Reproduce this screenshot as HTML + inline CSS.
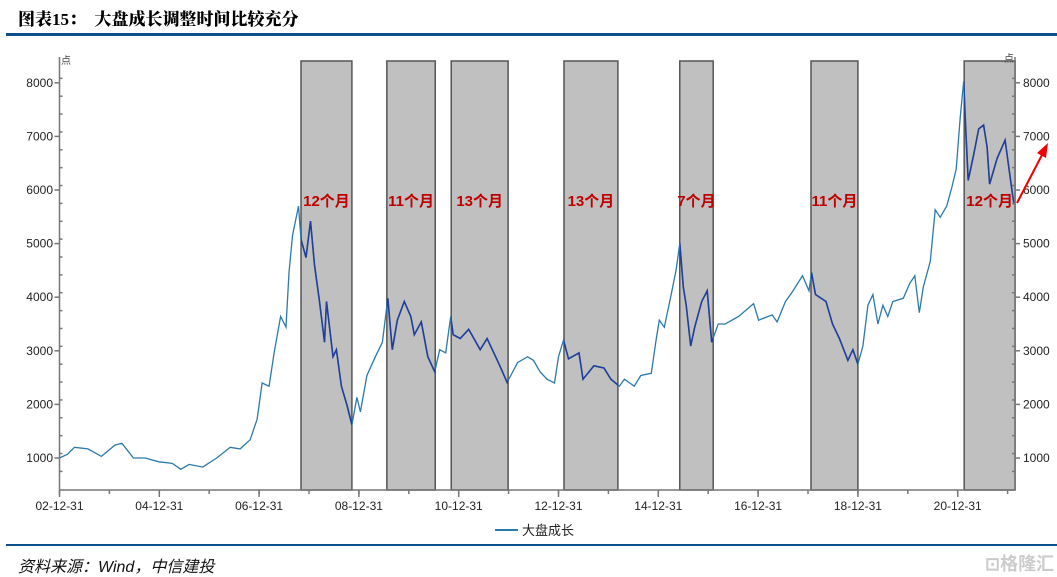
<!DOCTYPE html>
<html><head><meta charset="utf-8"><style>
body{margin:0;width:1057px;height:577px;background:#fff;overflow:hidden;font-family:"Liberation Sans","Noto Sans CJK SC",sans-serif;}
#title{position:absolute;left:18px;top:5px;font-size:17px;font-weight:900;color:#000;font-family:"Liberation Serif","Noto Serif CJK SC",serif;white-space:pre}
#topline{position:absolute;left:6px;top:33px;width:1051px;height:3px;background:#0d4f8b}
#botline{position:absolute;left:6px;top:544px;width:1051px;height:2px;background:#0d4f8b}
#source{position:absolute;left:18px;top:553px;font-size:16px;font-style:italic;color:#111}
#wm{position:absolute;left:985px;top:550px;font-size:18px;color:#ccc;font-weight:bold}
</style></head><body>
<div id="title">图表15：  大盘成长调整时间比较充分</div>
<div id="topline"></div>
<svg id="chart" width="1057" height="577" style="position:absolute;left:0;top:0"></svg>
<div id="botline"></div>
<div id="source">资料来源：Wind，中信建投</div>
<div id="wm">⊡格隆汇</div>
<script>
const years=[2003.0,2003.16,2003.3,2003.57,2003.84,2004.11,2004.25,2004.48,2004.72,2004.99,2005.26,2005.43,2005.6,2005.87,2006.15,2006.42,2006.62,2006.82,2006.96,2007.06,2007.2,2007.3,2007.43,2007.54,2007.6,2007.67,2007.79,2007.84,2007.94,2008.03,2008.11,2008.21,2008.31,2008.35,2008.48,2008.55,2008.65,2008.76,2008.86,2008.96,2009.03,2009.16,2009.33,2009.47,2009.58,2009.67,2009.77,2009.91,2010.04,2010.11,2010.25,2010.38,2010.52,2010.62,2010.74,2010.84,2010.89,2011.03,2011.2,2011.43,2011.57,2011.81,2011.97,2012.18,2012.38,2012.5,2012.63,2012.77,2012.92,2013.0,2013.1,2013.2,2013.41,2013.49,2013.71,2013.91,2014.05,2014.22,2014.32,2014.52,2014.65,2014.86,2014.96,2015.02,2015.12,2015.26,2015.36,2015.43,2015.5,2015.56,2015.65,2015.73,2015.87,2015.98,2016.07,2016.2,2016.34,2016.61,2016.91,2017.01,2017.28,2017.38,2017.55,2017.68,2017.89,2018.02,2018.07,2018.15,2018.36,2018.49,2018.63,2018.8,2018.9,2019.0,2019.1,2019.2,2019.3,2019.4,2019.5,2019.6,2019.7,2019.91,2020.04,2020.14,2020.23,2020.31,2020.45,2020.55,2020.65,2020.78,2020.88,2020.97,2021.05,2021.12,2021.15,2021.21,2021.32,2021.42,2021.52,2021.59,2021.64,2021.79,2021.95,2022.01,2022.11,2022.13];
const values=[1000,1070,1200,1170,1030,1240,1275,1000,1000,930,900,790,880,830,1000,1200,1170,1340,1720,2400,2340,2960,3640,3440,4460,5150,5700,5080,4740,5420,4600,3920,3160,3920,2890,3020,2340,1990,1620,2130,1860,2540,2890,3160,3980,3020,3570,3920,3640,3300,3540,2890,2610,3020,2960,3640,3300,3230,3400,3020,3230,2750,2410,2780,2890,2820,2610,2470,2400,2890,3200,2850,2960,2470,2720,2680,2470,2340,2470,2340,2540,2580,3230,3570,3440,4060,4530,5010,4190,3850,3090,3440,3920,4120,3160,3500,3500,3640,3880,3570,3670,3540,3920,4090,4400,4120,4460,4050,3920,3500,3230,2820,3020,2750,3090,3850,4050,3500,3850,3640,3920,3980,4260,4400,3710,4190,4670,5630,5490,5700,6040,6390,7350,8030,7350,6180,6660,7140,7210,6800,6110,6590,6930,6520,5840,5730];
const shadeStart=[2007.84,2009.56,2010.85,2013.11,2015.43,2018.06,2021.13];
const shadeEnd=[2008.86,2010.53,2011.99,2014.19,2016.1,2019.0,2022.15];
const shadeLabels=["12个月","11个月","13个月","13个月","7个月","11个月","12个月"];
const yTicks=[1000,2000,3000,4000,5000,6000,7000,8000];
const xTickLabels=["02-12-31","04-12-31","06-12-31","08-12-31","10-12-31","12-12-31","14-12-31","16-12-31","18-12-31","20-12-31"];
const xTickYears=[2003,2005,2007,2009,2011,2013,2015,2017,2019,2021];

const NS="http://www.w3.org/2000/svg";
const svg=document.getElementById('chart');
const X0=59.5,XR=1015,YB=490,YT=61;
function xs(y){return X0+49.9*(y-2003);}
function ys(v){return 458-(v-1000)*0.0536;}
function mk(t,a,p){const e=document.createElementNS(NS,t);for(const k in a)e.setAttribute(k,a[k]);(p||svg).appendChild(e);return e;}

const defs=mk('defs',{});
const cp=mk('clipPath',{id:'shclip'},defs);
shadeStart.forEach((s,i)=>{
  const r=mk('rect',{x:xs(s),y:YT,width:xs(shadeEnd[i])-xs(s),height:YB-YT,fill:'#c0c0c0',stroke:'#555','stroke-width':1.5});
  
  
  mk('rect',{x:xs(s),y:YT,width:xs(shadeEnd[i])-xs(s),height:YB-YT},cp);
});
let d='';years.forEach((y,i)=>{d+=(i?'L':'M')+xs(y).toFixed(1)+','+ys(values[i]).toFixed(1);});
const l1=mk('path',{d:d,fill:'none',stroke:'#2a7aaa','stroke-width':1.3});


const l2=mk('path',{d:d,fill:'none',stroke:'#1f3f9a','stroke-width':1.6,'clip-path':'url(#shclip)'});


shadeStart.forEach((s,i)=>{
  const cx=(xs(s)+xs(shadeEnd[i]))/2;
  const t=mk('text',{x:cx,y:206,'text-anchor':'middle','font-size':15,'font-weight':'bold',fill:'#c00000','font-family':'"Liberation Sans","Noto Sans CJK SC",sans-serif'});
  t.textContent=shadeLabels[i];
  
  
});
const ax=mk('g',{stroke:'#777','stroke-width':1.5});


mk('line',{x1:X0,y1:YT-4,x2:X0,y2:YB},ax);
mk('line',{x1:XR,y1:YT-4,x2:XR,y2:YB},ax);
mk('line',{x1:X0,y1:YB,x2:XR,y2:YB},ax);
for(let v=750;v<=8250;v+=333.33){mk('line',{x1:X0,y1:ys(v),x2:X0+3,y2:ys(v)},ax);mk('line',{x1:XR,y1:ys(v),x2:XR-3,y2:ys(v)},ax);}
yTicks.forEach(v=>{
  mk('line',{x1:X0-5,y1:ys(v),x2:X0,y2:ys(v)},ax);
  mk('line',{x1:XR,y1:ys(v),x2:XR+5,y2:ys(v)},ax);
  const a=mk('text',{x:53,y:ys(v)+4,'text-anchor':'end','font-size':12,fill:'#222'});a.textContent=v;
  
  const b=mk('text',{x:1023,y:ys(v)+4,'font-size':12,fill:'#222'});b.textContent=v;
  
});
for(let y=2003;y<=2022;y++){mk('line',{x1:xs(y),y1:YB,x2:xs(y),y2:YB+4},ax);}
xTickLabels.forEach((s,i)=>{
  mk('line',{x1:xs(xTickYears[i]),y1:YB,x2:xs(xTickYears[i]),y2:YB+7},ax);
  const t=mk('text',{x:xs(xTickYears[i]),y:510,'text-anchor':'middle','font-size':12,fill:'#222'});t.textContent=s;
  
});
const u1=mk('text',{x:61,y:64,'font-size':10,fill:'#444'});u1.textContent='点';

const u2=mk('text',{x:1004,y:62,'font-size':10,fill:'#444'});u2.textContent='点';

const ar=mk('g',{});

mk('line',{x1:1017,y1:203,x2:1043,y2:153,stroke:'#e00','stroke-width':2},ar);
mk('polygon',{points:'1048,143 1046,158 1037,153',fill:'#e00'},ar);
const lg=mk('g',{});

mk('line',{x1:495,y1:530,x2:518,y2:530,stroke:'#2a7aaa','stroke-width':2},lg);
const lt=mk('text',{x:522,y:535,'font-size':13,fill:'#222'},lg);lt.textContent='大盘成长';
</script>
</body></html>
